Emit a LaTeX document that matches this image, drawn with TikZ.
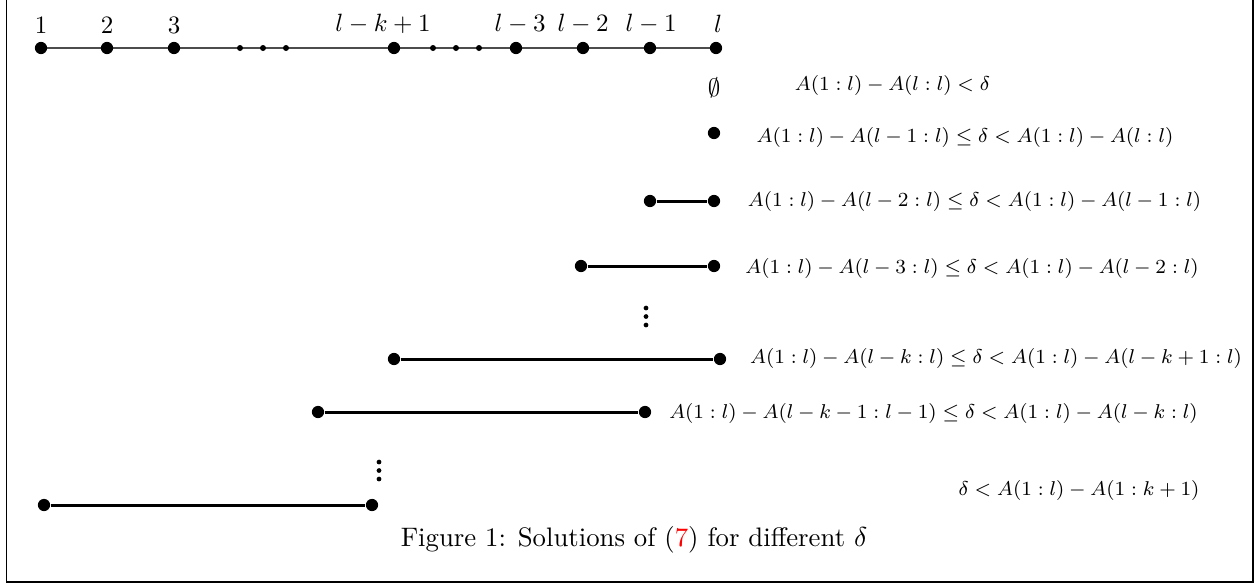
\documentclass[tikz,border=0pt]{standalone}
\usepackage{amsmath}
\usepackage{xcolor}
\begin{document}
\begin{tikzpicture}[x=0.4pt,y=-0.4pt,
  bigdot/.style={circle,fill=black,inner sep=0pt,minimum size=4.9pt},
  smalldot/.style={circle,fill=black,inner sep=0pt,minimum size=2.4pt},
  vdot/.style={circle,fill=black,inner sep=0pt,minimum size=1.9pt},
  seg/.style={line width=1.2pt},
  axisline/.style={line width=0.55pt,black!70},
  toplab/.style={inner sep=0pt,font=\fontsize{10}{12}\selectfont},
  rowlab/.style={inner sep=0pt,font=\fontsize{8.3}{10}\selectfont},
  framebox/.style={line width=0.5pt}]
\useasboundingbox (0,0) rectangle (1257,583);
\draw[framebox] (6.5,0) -- (6.5,582) -- (1253,582) -- (1253,0);
% top row: line first, then the points on it
\coordinate (axA) at (41,48);
\coordinate (axB) at (716,48);
\draw[axisline] (axA) -- (axB);
\node[bigdot] (p1) at (41,48) {};
\node[bigdot] (p2) at (107,48) {};
\node[bigdot] (p3) at (174,48) {};
\node[smalldot] (e1) at (240,48) {};
\node[smalldot] (e2) at (263,48) {};
\node[smalldot] (e3) at (286,48) {};
\node[bigdot] (pk) at (394,48) {};
\node[smalldot] (e4) at (433,48) {};
\node[smalldot] (e5) at (456,48) {};
\node[smalldot] (e6) at (479,48) {};
\node[bigdot] (pl3) at (516,48) {};
\node[bigdot] (pl2) at (583,48) {};
\node[bigdot] (pl1) at (650,48) {};
\node[bigdot] (pl) at (716,48) {};
\node[toplab] (t1) at (41,25) {$1$};
\node[toplab] (t2) at (107,25) {$2$};
\node[toplab] (t3) at (174,25) {$3$};
\node[toplab] (tk) at (383,24) {$l-k+1$};
\node[toplab] (tl3) at (520,24) {$l-3$};
\node[toplab] (tl2) at (583,24) {$l-2$};
\node[toplab] (tl1) at (651,24) {$l-1$};
\node[toplab] (tl) at (718,24) {$l$};
% rows
\node[toplab] (r0s) at (714,88) {$\emptyset$};
\node[rowlab] (r0t) at (892.5,85) {$A(1:l)-A(l:l)<\delta$};
\node[bigdot] (r1a) at (714,133) {};
\node[rowlab] (r1t) at (965,137) {$A(1:l)-A(l-1:l)\leq\delta<A(1:l)-A(l:l)$};
\node[bigdot] (r2a) at (650,201) {};
\node[bigdot] (r2b) at (714,201) {};
\draw[seg] (r2a) -- (r2b);
\node[rowlab] (r2t) at (974.5,201) {$A(1:l)-A(l-2:l)\leq\delta<A(1:l)-A(l-1:l)$};
\node[bigdot] (r3a) at (581,266) {};
\node[bigdot] (r3b) at (714,266) {};
\draw[seg] (r3a) -- (r3b);
\node[rowlab] (r3t) at (972,268) {$A(1:l)-A(l-3:l)\leq\delta<A(1:l)-A(l-2:l)$};
\node[vdot] (v1a) at (646,308) {};
\node[vdot] (v1b) at (646,316.5) {};
\node[vdot] (v1c) at (646,325) {};
\node[bigdot] (r4a) at (394,359) {};
\node[bigdot] (r4b) at (720,359) {};
\draw[seg] (r4a) -- (r4b);
\node[rowlab] (r4t) at (996,358) {$A(1:l)-A(l-k:l)\leq\delta<A(1:l)-A(l-k+1:l)$};
\node[bigdot] (r5a) at (318,412) {};
\node[bigdot] (r5b) at (645,412) {};
\draw[seg] (r5a) -- (r5b);
\node[rowlab] (r5t) at (933.5,413) {$A(1:l)-A(l-k-1:l-1)\leq\delta<A(1:l)-A(l-k:l)$};
\node[vdot] (v2a) at (379,462) {};
\node[vdot] (v2b) at (379,470.5) {};
\node[vdot] (v2c) at (379,479) {};
\node[bigdot] (r6a) at (44,505) {};
\node[bigdot] (r6b) at (372,505) {};
\draw[seg] (r6a) -- (r6b);
\node[rowlab] (r6t) at (1079,490) {$\delta<A(1:l)-A(1:k+1)$};
% caption
\node[inner sep=0pt,font=\fontsize{10.7}{12}\selectfont] (cap) at (634,540) {Figure 1: Solutions of (\textcolor{red}{7}) for different $\delta$};
\end{tikzpicture}
\end{document}
